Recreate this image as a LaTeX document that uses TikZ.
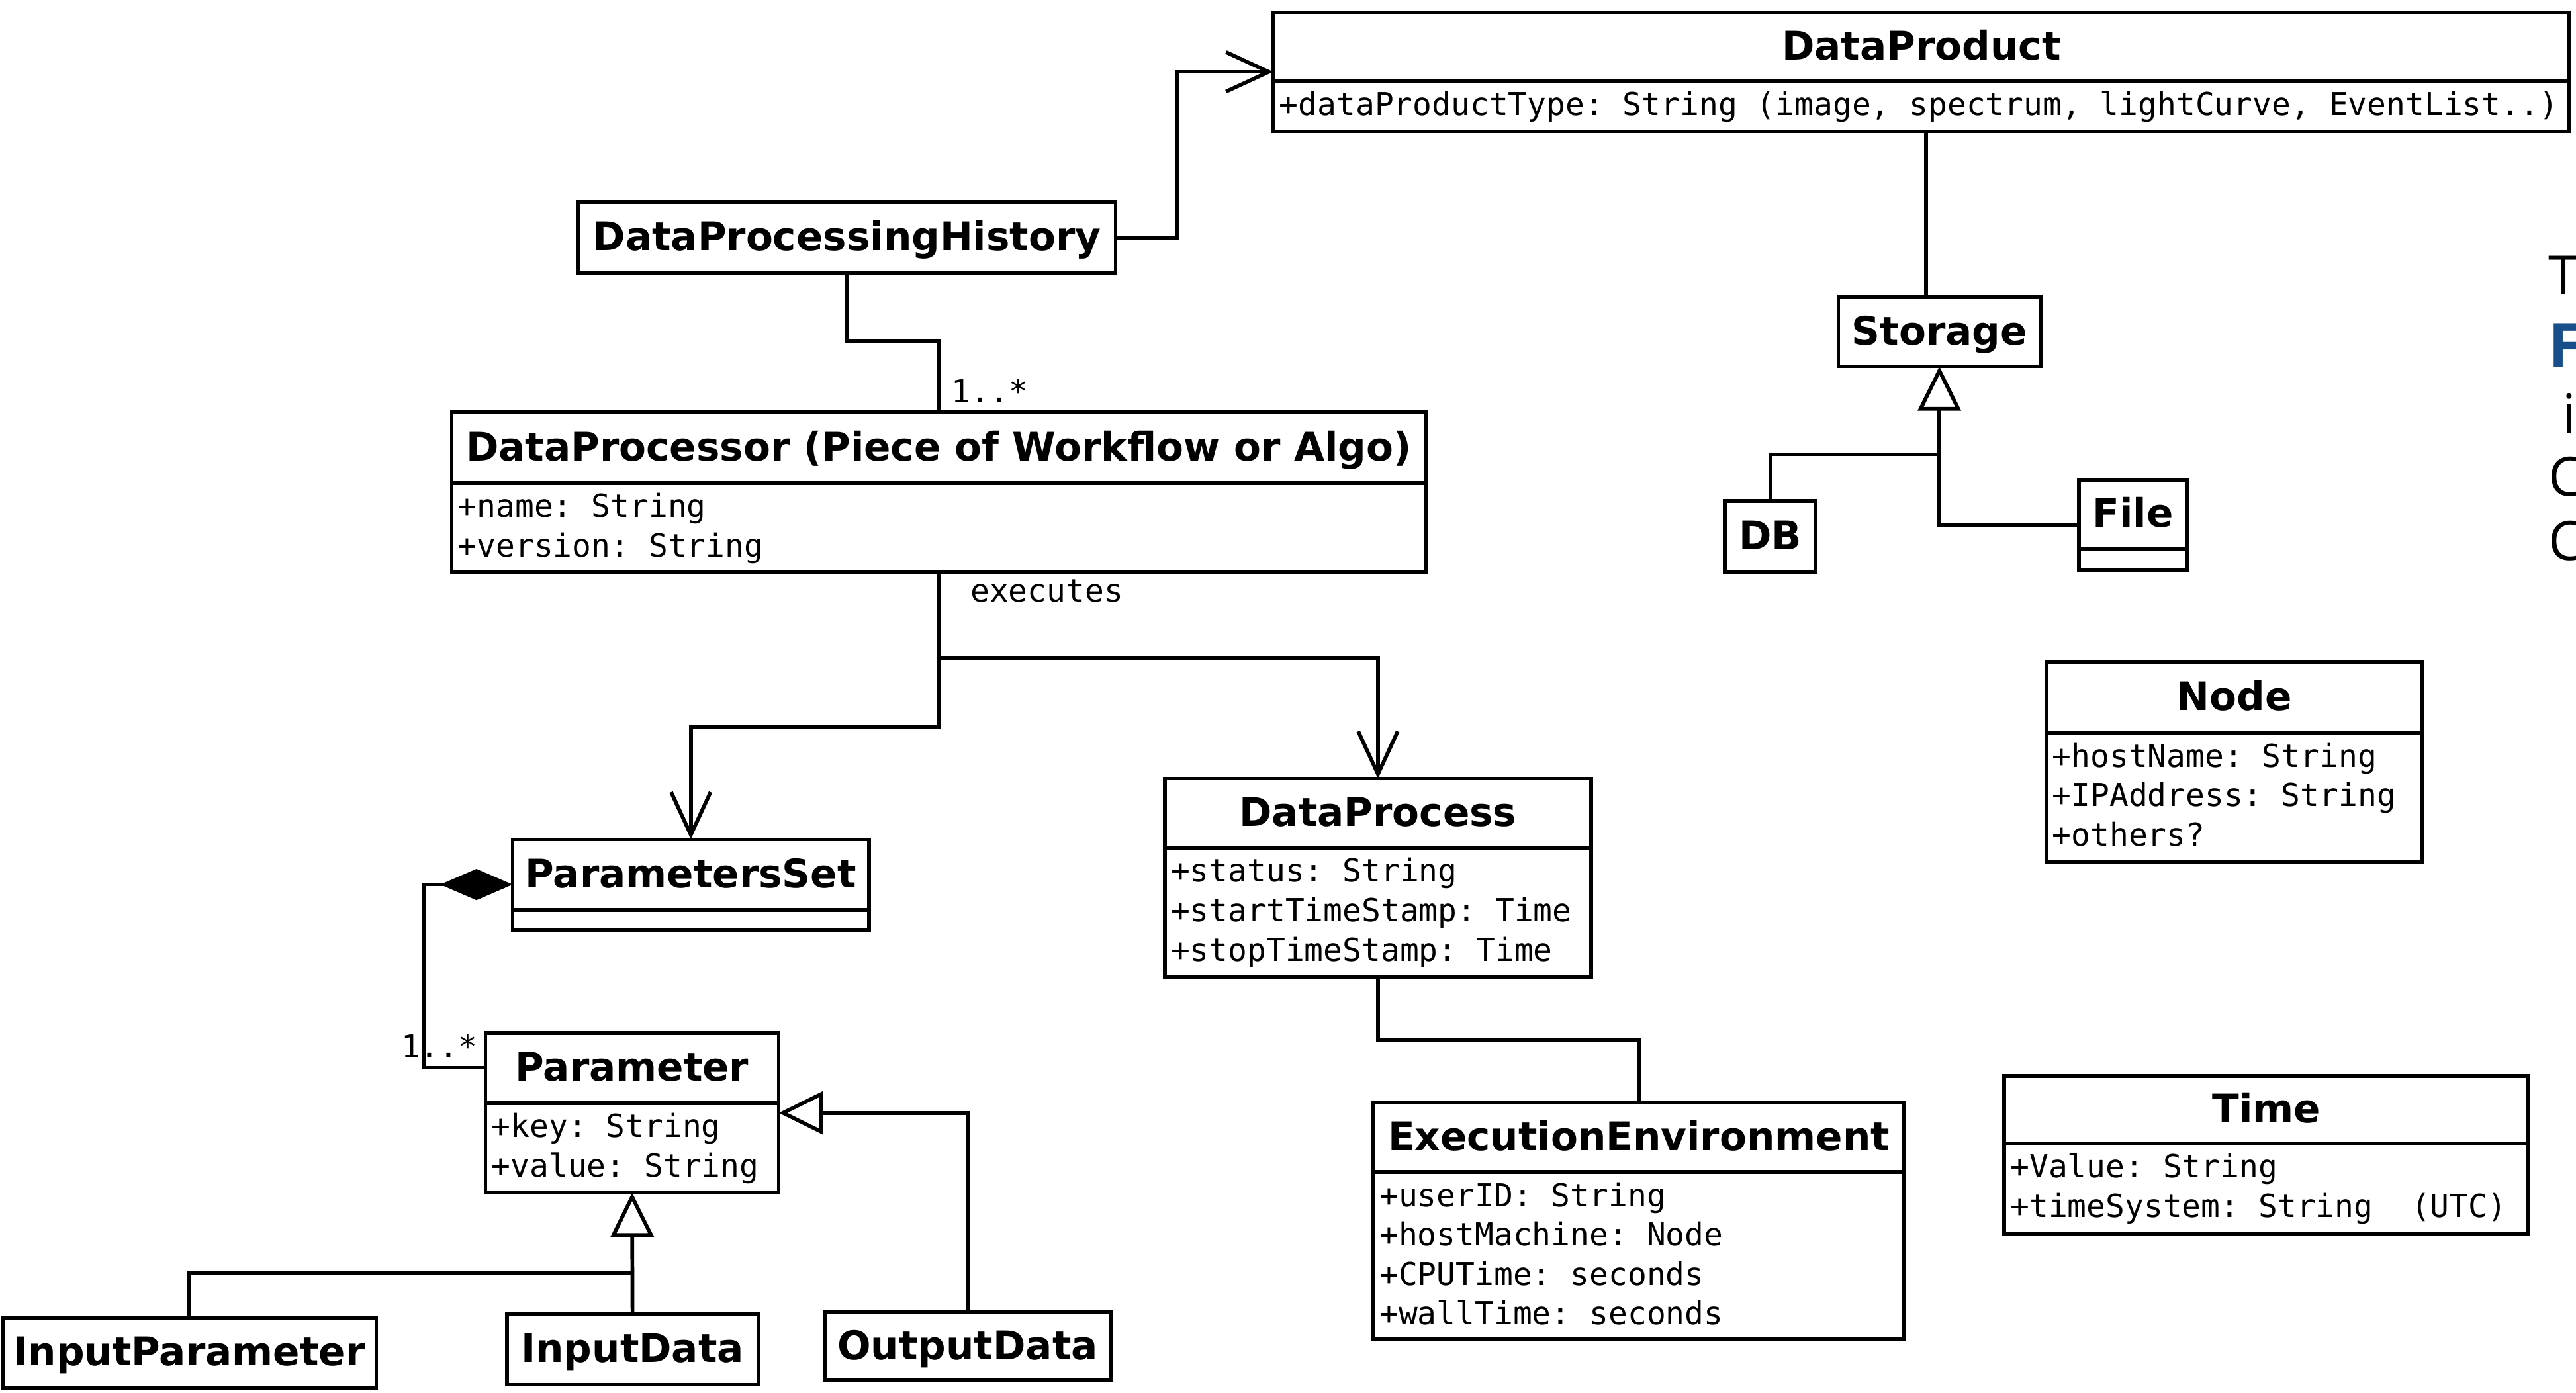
\documentclass[tikz,border=0pt]{standalone}
\usepackage{fontspec}
\usetikzlibrary{arrows.meta,calc}
\newfontfamily\hdfont{DejaVu Sans}
\newfontfamily\monofont{DejaVu Sans Mono}
\newfontfamily\osfont{Open Sans}
\definecolor{sideblue}{RGB}{24,79,138}
\newcommand\umlbox[5]{\node[box, minimum width={(#4)-(#2)}, minimum height={(#5)-(#3)}] (#1) at (#2,#3) {};}
\newcommand\umldiv[2]{\draw[conn] ([yshift=-#2pt]#1.north west) -- ([yshift=-#2pt]#1.north east);}
\begin{document}
\frenchspacing
\begin{tikzpicture}[x=1pt,y=-1pt,
  box/.style={draw, line width=2.3pt, inner sep=0pt, outer sep=0pt, anchor=north west},
  conn/.style={line width=2.3pt},
  ttl/.style={font=\hdfont\bfseries\fontsize{24}{28}\selectfont, anchor=base, inner sep=0pt},
  att/.style={font=\monofont\fontsize{19.3}{23}\selectfont\frenchspacing, anchor=base west, inner sep=0pt},
  navig/.style={conn, -{Straight Barb[length=26pt,width=24pt,line width=2.3pt]}},
  gen/.style={conn, -{Triangle[open,length=27pt,width=26pt,line width=2.3pt]}},
  comp/.style={conn, -{Diamond[length=44pt,width=19pt]}},
  side/.style={font=\osfont\fontsize{33}{40}\selectfont, anchor=base west, inner sep=0pt}
]
\fill[white] (0,0) rectangle (1568,847.7);
\useasboundingbox (0,0) rectangle (1568,847.7);

% ---- classes ----
\umlbox{dprod}{775}{7.5}{1564}{80}
\umldiv{dprod}{42}
\node[ttl] (dprodT) at (1169.5,36.5) {DataProduct};
\node[att] (dprodA) at (778.5,70.5) {+dataProductType: String (image, spectrum, lightCurve, EventList..)};

\umlbox{dph}{352}{123}{679}{166}
\node[ttl] (dphT) at (515.5,152.5) {DataProcessingHistory};

\umlbox{dproc}{275}{251}{868}{348.5}
\umldiv{dproc}{43}
\node[ttl] (dprocT) at (571.5,280.5) {DataProcessor (Piece of Workflow or Algo)};
\node[att] (dprocA1) at (278.5,315) {+name: String};
\node[att] (dprocA2) at (278.5,339) {+version: String};

\umlbox{storage}{1119}{181}{1242}{223}
\node[ttl] (storageT) at (1180.5,210) {Storage};

\umlbox{db}{1050}{305}{1105}{348}
\node[ttl] (dbT) at (1077.5,334.5) {DB};

\umlbox{file}{1265.5}{292}{1331}{347}
\umldiv{file}{42}
\node[ttl] (fileT) at (1298.25,321) {File};

\umlbox{nodebox}{1245.5}{403}{1474.5}{524.5}
\umldiv{nodebox}{43}
\node[ttl] (nodeT) at (1360,432.5) {Node};
\node[att] (nodeA1) at (1249,467) {+hostName: String};
\node[att] (nodeA2) at (1249,491) {+IPAddress: String};
\node[att] (nodeA3) at (1249,515) {+others?};

\umlbox{pset}{312}{511}{529}{566}
\umldiv{pset}{43}
\node[ttl] (psetT) at (420.5,540.5) {ParametersSet};

\umlbox{dpr}{709}{474}{968.5}{595}
\umldiv{dpr}{42}
\node[ttl] (dprT) at (838.75,503) {DataProcess};
\node[att] (dprA1) at (712.5,537) {+status: String};
\node[att] (dprA2) at (712.5,561) {+startTimeStamp: Time};
\node[att] (dprA3) at (712.5,585) {+stopTimeStamp: Time};

\umlbox{param}{295.5}{629}{474}{726}
\umldiv{param}{42.5}
\node[ttl] (paramT) at (384.75,658.25) {Parameter};
\node[att] (paramA1) at (299,692.5) {+key: String};
\node[att] (paramA2) at (299,716.5) {+value: String};

\umlbox{ee}{836}{671}{1159}{815.5}
\umldiv{ee}{42.5}
\node[ttl] (eeT) at (997.5,700.25) {ExecutionEnvironment};
\node[att] (eeA1) at (839.5,734.5) {+userID: String};
\node[att] (eeA2) at (839.5,758.5) {+hostMachine: Node};
\node[att] (eeA3) at (839.5,782.5) {+CPUTime: seconds};
\node[att] (eeA4) at (839.5,806.5) {+wallTime: seconds};

\umlbox{timebox}{1220}{655}{1539}{751.5}
\umldiv{timebox}{41}
\node[ttl] (timeT) at (1379.5,683.5) {Time};
\node[att] (timeA1) at (1223.5,717) {+Value: String};
\node[att] (timeA2) at (1223.5,741) {+timeSystem: String\ \ (UTC)};

\umlbox{iparam}{1.5}{802}{229}{845}
\node[ttl] (iparamT) at (115.25,831.5) {InputParameter};

\umlbox{idata}{308.5}{800}{461.5}{843}
\node[ttl] (idataT) at (385,829.5) {InputData};

\umlbox{odata}{502}{799}{676}{840.5}
\node[ttl] (odataT) at (589,827.75) {OutputData};

% ---- connectors ----
\draw[navig] (dph.east) -- ++(37.5,0) |- (dprod.west);
\draw[conn] (dph.south) -- ++(0,42) -| (dproc.north);
\node[att] (mult1) at (579,245) {1..*};

\coordinate (split) at ($(dproc.south)+(0,52)$);
\draw[navig] (dproc.south) -- ++(0,94) -| (pset.north);
\draw[navig] (split) -| (dpr.north);
\node[att] (execlbl) at (590.5,366.5) {executes};

\draw[conn] ([xshift=-8pt]storage.north) -- ([xshift=-8pt]storage.north |- dprod.south);
\coordinate (sj) at ($(storage.south)+(0,53.6)$);
\draw[conn] (db.north) |- (sj);
\draw[gen] (file.west) -| (storage.south);

\draw[comp] ([yshift=-21pt]param.north west) -- ++(-37.5,0) |- (pset.west);
\node[att] (mult2) at (244,644) {1..*};

\coordinate (pj) at ($(param.south)+(0,49)$);
\draw[gen] (idata.north) -- (param.south);
\draw[conn] (iparam.north) |- (pj);
\draw[gen] (odata.north) |- (param.east);

\draw[conn] (dpr.south) -- ++(0,38) -| (ee.north);

% ---- cut-off text at right edge (cut off in the reference too) ----
\node[side] (s1) at (1551,179.5) {T};
\node[side, font=\osfont\bfseries\fontsize{37}{44}\selectfont, text=sideblue] (s2) at (1551,223.4) {F};
\node[side] (s3) at (1559.5,263.5) {i};
\node[side] (s4) at (1551,302) {C};
\node[side] (s5) at (1551,341) {C};
\end{tikzpicture}
\end{document}
